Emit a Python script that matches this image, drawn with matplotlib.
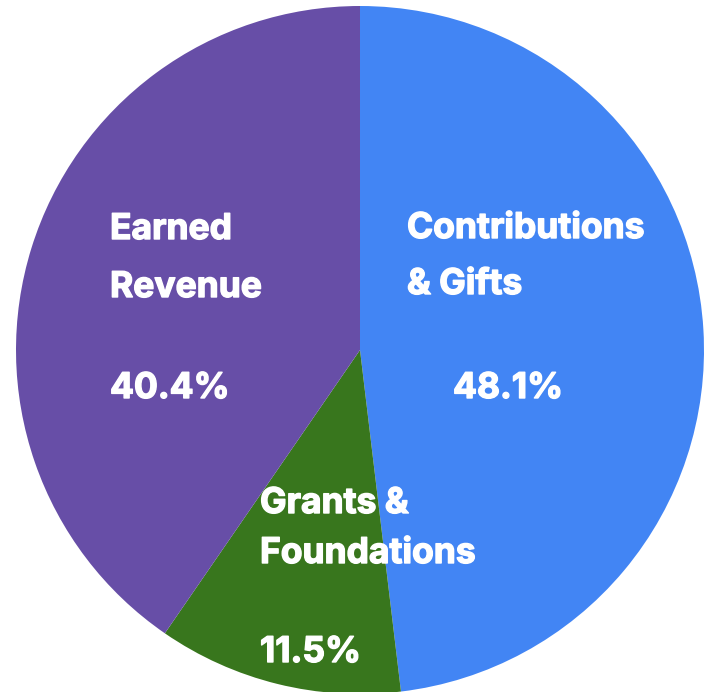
import matplotlib
matplotlib.use("Agg")
import matplotlib.pyplot as plt
import matplotlib.patheffects as pe

# slices, clockwise from the top
names = [["Contributions", "& Gifts"], ["Grants &", "Foundations"], ["Earned", "Revenue"]]
shares = [48.1, 11.5, 40.4]
colors = ["#4285F4", "#38761D", "#674EA7"]

W, H = 711, 692
cx, cy, r = 360, 350, 344  # pie centre / radius in pixels

fig = plt.figure(figsize=(W / 100, H / 100), dpi=100)
ax = fig.add_axes([0, 0, 1, 1])
ax.pie(shares, colors=colors, startangle=90, counterclock=False,
       radius=1, center=(0, 0), wedgeprops=dict(linewidth=0))
ax.set_xlim(-cx / r, (W - cx) / r)
ax.set_ylim(-(H - cy) / r, cy / r)
ax.set_aspect("equal")
ax.axis("off")


def px(x, y):
    return (x - cx) / r, (cy - y) / r


# label anchors in pixels: left edge and baselines of each line
name_x = [407, 260, 110]
name_y = [(238, 294), (513, 563), (239, 297)]
pct_xy = [(453, 398), (260, 662), (110, 398)]

# thin white stroke to get a heavier weight than Inter's default bold
style = dict(color="white", fontweight="bold", family="Inter", fontsize=25.5,
             path_effects=[pe.withStroke(linewidth=1.0, foreground="white")])
for lines, share, nx, ny, ppos in zip(names, shares, name_x, name_y, pct_xy):
    for line, y in zip(lines, ny):
        ax.text(*px(nx, y), line, ha="left", va="baseline", **style)
    ax.text(*px(*ppos), f"{share:.1f}%", ha="left", va="baseline", **style)

fig.savefig("out.png", dpi=100)
